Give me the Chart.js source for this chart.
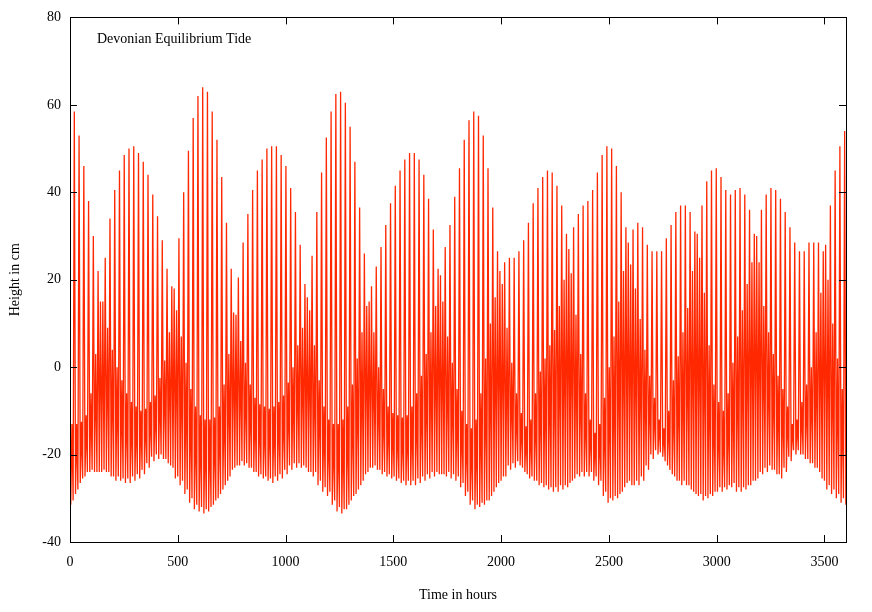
<!DOCTYPE html>
<html>
<head>
<meta charset="utf-8">
<title>Devonian Equilibrium Tide</title>
<script src="https://cdn.jsdelivr.net/npm/chart.js@4.4.1/dist/chart.umd.min.js"></script>
<style>
  html, body { margin: 0; padding: 0; background: #fff; }
  #wrap { width: 872px; height: 612px; }
</style>
</head>
<body>
<div id="wrap"><canvas id="chartTide" width="872" height="612"></canvas></div>
<script>
(function() {
  'use strict';

  // Devonian tidal day (hours) and time of the higher high before the first full day
  const DAY_H = 22.06;
  const FIRST_HIGH_H = -2.06;

  // Extremes for each tidal day (cm).
  // highA: high at the start of the day, lowA: the low after it,
  // highB: the next high, half a day later, lowB: the low after that.
  const highA = [
    null, 58.5, 53, 46, 38, 30, 22, 15, 9, 4,
    0, -3, -6, -8, -9, -10, -9.5, -8, -6.5, -2.5,
    1.5, 8, 18, 29.5, 40, 49.5, 57, 62, 64, 63,
    58.5, 52, 43.5, 33, 22.5, 12, 6, 1, -4, -7,
    -8.5, -9, -9.5, -9, -8, -6.5, -3.5, 0, 5, 9,
    16, 25.5, 35.5, 44.5, 52.5, 58.5, 62.5, 63, 60.5, 55,
    47, 36.5, 26, 15, 8, 0, -5, -9, -10.5, -11,
    -11.5, -11, -9, -6, -2, 3, 8, 14, 21, 27.5,
    32.5, 39, 45.5, 52, 56.5, 58.5, 57.5, 53, 45.5, 36.5,
    26.5, 19, 9, 1, -6, -10.5, -13.5, -12, -6, -1,
    2, 5, 8.5, 14, 20, 27, 32, 35, 37, 38,
    40.5, 44.5, 48.5, 50.5, 50, 46, 40, 32, 23.5, 18,
    11, 4, -2, -7, -12, -14, -10, -3, 2.5, 8,
    13.5, 22, 30.5, 37, 42.5, 45, 45.5, 43.5, 40.5, 39.5,
    40.5, 41, 39.5, 36, 30.5, 24, 14, 8, 3, -2,
    -5, -9, -13, -12, -8, -4, 0, 8, 17, 28,
    37, 45, 50.5, 54
  ];
  const lowA = [
    -31.5, -29, -26.5, -25, -24, -24, -24, -23.5, -24, -25,
    -25, -25.5, -25.5, -25, -24.5, -23.5, -22, -20.5, -20, -20,
    -21, -22.5, -25.5, -27, -29, -31, -32.5, -33, -33.5, -33,
    -31.5, -30, -28, -26, -23.5, -22.5, -21.5, -22, -23, -24,
    -24.5, -25, -25.5, -25, -24.5, -23.5, -22.5, -22, -22, -22.5,
    -24, -25, -27, -28.5, -29.5, -31.5, -33, -33.5, -32.5, -30.5,
    -29, -27, -24.5, -23, -22.5, -23.5, -24, -24.5, -25, -25.5,
    -26, -26, -26, -25.5, -25, -24.5, -24, -24, -24.5, -25,
    -25.5, -26, -27.5, -29.5, -31.5, -32.5, -32, -31.5, -30.5, -28.5,
    -26.5, -25, -22.5, -22, -21.5, -23, -24.5, -25, -26, -26.5,
    -27, -27.5, -27.5, -27, -27, -26.5, -25.5, -25, -25, -25,
    -26, -27, -29.5, -31, -30.5, -30, -28.5, -26.5, -27, -26,
    -25, -22.5, -20, -19, -19.5, -21.5, -23.5, -25, -26, -26,
    -27, -28.5, -29.5, -30.5, -30, -29.5, -28.5, -28.5, -28, -27.5,
    -28.5, -28.5, -28, -27, -26, -24, -23, -22.5, -23.5, -24.5,
    -23, -20.5, -19, -19, -20, -21, -22, -23, -25.5, -28,
    -29, -30, -31, -31.5
  ];
  const highB = [
    -13, -13, -12.5, -11, -6, 3, 15, 25, 34, 40.5,
    45, 48.5, 50, 50.5, 49, 47, 44, 39.5, 34.5, 29,
    22.5, 18.5, 13, 7, 1, -5, -9, -11, -12, -12,
    -11.5, -9, -4, 3, 12.5, 20.5, 28.5, 35, 40.5, 45,
    47.5, 50, 50.5, 50.5, 48.5, 46, 41, 35.5, 28, 19,
    13, 5, -3, -9, -12, -13, -13, -12, -9, -4,
    2, 8, 14, 18.5, 23, 27.5, 32.5, 37.5, 41.5, 45,
    47.5, 49, 49, 47.5, 44, 38.5, 31.5, 22.5, 15, 7,
    1, -5, -10, -13, -14, -12, -6, 2, 10, 16,
    22, 24, 25, 25, 26.5, 29, 33, 37.5, 41, 43.5,
    45, 44.5, 41.5, 37, 30.5, 21.5, 12, 3, -6, -12,
    -15, -13, -7, 0, 7, 15, 22, 28.5, 31.5, 33,
    32, 28, 26.5, 26.5, 26.5, 29.5, 32.5, 35.5, 37, 37,
    35.5, 31, 25, 17, 5, -4, -8, -10, -6, 1,
    7, 13, 19, 24, 30, 36, 39.5, 41, 40.5, 38.5,
    35.5, 32, 28.5, 26.5, 26.5, 28.5, 28.5, 28.5, 26.5, 20,
    10, 2, -5, -9
  ];
  const lowB = [
    -30.5, -28, -25.5, -24, -23.5, -24, -24, -24, -25, -26,
    -26, -26.5, -26.5, -26, -25.5, -24.5, -23, -21.5, -21, -21,
    -22, -23, -25, -26, -28, -30, -31.5, -32, -32.5, -32,
    -30.5, -29, -27, -25, -23, -22.5, -22.5, -23, -24, -25,
    -25.5, -26, -26.5, -26, -25.5, -24.5, -23.5, -23, -23, -23,
    -24, -24, -26, -27.5, -28.5, -30.5, -32, -32.5, -31.5, -29.5,
    -28, -26, -24, -23, -23.5, -24.5, -25, -25.5, -26, -26.5,
    -27, -27, -27, -26.5, -26, -25.5, -25, -24.5, -24.5, -24,
    -24.5, -25, -26.5, -28.5, -30.5, -31.5, -31, -30.5, -29.5, -27.5,
    -26, -25, -23.5, -23, -22.5, -24, -25.5, -26, -27, -27.5,
    -28, -28.5, -28.5, -28, -27.5, -26, -24.5, -24, -24, -24,
    -25, -26, -28.5, -30, -29.5, -29, -27.5, -26, -27, -27,
    -26, -23.5, -21, -20, -20.5, -22.5, -24.5, -26, -27, -27,
    -28, -29, -29, -29.5, -29, -28.5, -27.5, -27.5, -27, -26.5,
    -27.5, -27.5, -27, -26, -25.5, -24.5, -24, -23.5, -24.5, -25.5,
    -24, -21.5, -20, -20, -21, -22, -23, -24, -26, -27,
    -28, -29, -30, -30.5
  ];

  const xTicks = [0, 500, 1000, 1500, 2000, 2500, 3000, 3500];
  const yTicks = [-40, -20, 0, 20, 40, 60, 80];

  const LABEL = 'Devonian Equilibrium Tide';
  const FONT_FAMILY = '"Liberation Serif", "Times New Roman", serif';
  const LINE_COLOR = 'rgb(255, 40, 0)';
  const TICK_LEN = 7;

  // one point per extreme, a quarter of a tidal day apart
  const points = [];
  for (let i = 0; i < highA.length; i++) {
    const t = FIRST_HIGH_H + DAY_H * i;
    points.push({ x: t, y: highA[i] });
    points.push({ x: t + DAY_H / 4, y: lowA[i] });
    points.push({ x: t + DAY_H / 2, y: highB[i] });
    points.push({ x: t + DAY_H * 3 / 4, y: lowB[i] });
  }

  // gnuplot style border: box round the plot, ticks pointing inward on all sides
  const borderPlugin = {
    id: 'gnuplotBorder',
    afterDatasetsDraw(chart) {
      const { ctx, chartArea: a, scales } = chart;
      ctx.save();
      ctx.strokeStyle = '#000';
      ctx.lineWidth = 1;
      ctx.beginPath();
      scales.x.ticks.forEach(t => {
        const px = Math.round(scales.x.getPixelForValue(t.value)) + 0.5;
        ctx.moveTo(px, a.bottom);
        ctx.lineTo(px, a.bottom - TICK_LEN);
        ctx.moveTo(px, a.top);
        ctx.lineTo(px, a.top + TICK_LEN);
      });
      scales.y.ticks.forEach(t => {
        const py = Math.round(scales.y.getPixelForValue(t.value)) + 0.5;
        ctx.moveTo(a.left, py);
        ctx.lineTo(a.left + TICK_LEN, py);
        ctx.moveTo(a.right, py);
        ctx.lineTo(a.right - TICK_LEN, py);
      });
      ctx.stroke();
      ctx.strokeRect(Math.round(a.left) + 0.5, Math.round(a.top) + 0.5,
        Math.round(a.right - a.left), Math.round(a.bottom - a.top));

      ctx.fillStyle = '#000';
      ctx.font = '14px ' + FONT_FAMILY;
      ctx.textAlign = 'left';
      ctx.textBaseline = 'alphabetic';
      ctx.fillText(LABEL, a.left + 27, a.top + 26);
      ctx.restore();
    }
  };

  const tickFont = { family: FONT_FAMILY, size: 14 };

  const canvas = document.getElementById('chartTide');
  new Chart(canvas.getContext('2d'), {
    type: 'line',
    data: {
      datasets: [{
        label: LABEL,
        data: points,
        borderColor: LINE_COLOR,
        borderWidth: 1.3,
        pointRadius: 0,
        tension: 0,
        fill: false
      }]
    },
    options: {
      responsive: false,
      animation: false,
      events: [],
      layout: { padding: { top: 16, right: 26, left: 0, bottom: 0 } },
      plugins: {
        legend: { display: false },
        tooltip: { enabled: false }
      },
      scales: {
        x: {
          type: 'linear',
          min: 0,
          max: 3600,
          afterBuildTicks: scale => { scale.ticks = xTicks.map(v => ({ value: v })); },
          afterFit: scale => { scale.height = 70; },
          grid: { display: false, drawTicks: false },
          border: { display: false },
          ticks: {
            color: '#000',
            font: tickFont,
            padding: 12,
            maxRotation: 0,
            autoSkip: false,
            callback: v => String(v)
          },
          title: {
            display: true,
            text: 'Time in hours',
            color: '#000',
            font: tickFont,
            padding: { top: 0, bottom: 8 }
          }
        },
        y: {
          min: -40,
          max: 80,
          afterBuildTicks: scale => { scale.ticks = yTicks.map(v => ({ value: v })); },
          afterFit: scale => { scale.width = 70; },
          grid: { display: false, drawTicks: false },
          border: { display: false },
          ticks: {
            color: '#000',
            font: tickFont,
            padding: 9,
            callback: v => String(v)
          },
          title: {
            display: true,
            text: 'Height in cm',
            color: '#000',
            font: tickFont,
            padding: { top: 7, bottom: 0 }
          }
        }
      }
    },
    plugins: [borderPlugin]
  });
})();
</script>
</body>
</html>
